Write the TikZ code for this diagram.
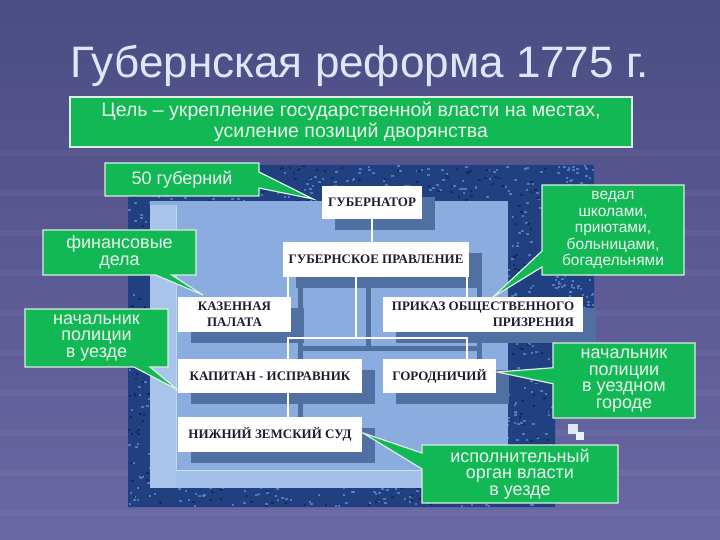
\documentclass[tikz,border=0pt]{standalone}
\usepackage{fontspec}
\setmainfont{Liberation Sans}
\newfontfamily\serifb{Liberation Serif}
\usetikzlibrary{shapes.callouts,shadows}
\definecolor{bgtop}{RGB}{76,76,132}
\definecolor{bgbot}{RGB}{106,104,164}
\definecolor{gr}{RGB}{18,184,84}
\definecolor{grtext}{RGB}{236,244,238}
\definecolor{grborder}{RGB}{222,236,228}
\definecolor{titlec}{RGB}{222,230,248}
\definecolor{darkpan}{RGB}{32,64,128}
\definecolor{speck}{RGB}{95,140,210}
\definecolor{speckd}{RGB}{16,34,78}
\definecolor{lightpan}{RGB}{138,172,222}
\definecolor{strip}{RGB}{168,196,234}
\definecolor{shad}{RGB}{80,112,162}
\definecolor{boxtext}{RGB}{28,28,50}
\tikzset{
  callout/.style={rectangle callout, draw=grborder, line width=1.2pt, fill=gr,
    text=grtext, align=center, font=\fontsize{18}{16.7}\selectfont,
    inner sep=2pt, callout pointer width=16pt},
  wbox/.style={fill=white, text=boxtext, inner sep=2pt,
    font=\serifb\bfseries\fontsize{13}{15.5}\selectfont,
    drop shadow={shadow xshift=13pt, shadow yshift=-11pt, fill=shad, opacity=1}},
  conn/.style={draw=white, line width=1.5pt},
  shadline/.style={draw=shad, line width=5pt}
}
\begin{document}
\begin{tikzpicture}[x=1pt,y=-1pt]
\useasboundingbox (0,0) rectangle (720,540);
\shade[top color=bgtop,bottom color=bgbot] (0,0) rectangle (720,540);
% faint background stripes
\foreach \yy in {150,190,230,270,310,350,390,430,470,510}{
  \fill[white,opacity=0.04] (0,\yy) rectangle (720,\yy+6);
}
% panel
\fill[darkpan] (128,165) -- (594,165) -- (594,418) -- (555,418) -- (555,507) -- (128,507) -- cycle;
\pgfmathsetseed{7}
\foreach \i in {1,...,1400}{
  \pgfmathsetmacro\rx{128+424*rnd}
  \pgfmathsetmacro\ry{165+340*rnd}
  \fill[speck,opacity=0.75] (\rx,\ry) rectangle ++(2.5,2);
}
\foreach \i in {1,...,700}{
  \pgfmathsetmacro\rx{128+424*rnd}
  \pgfmathsetmacro\ry{165+340*rnd}
  \fill[speckd,opacity=0.7] (\rx,\ry) rectangle ++(2.5,2);
}
\foreach \i in {1,...,300}{
  \pgfmathsetmacro\rx{552+40*rnd}
  \pgfmathsetmacro\ry{165+250*rnd}
  \fill[speck,opacity=0.75] (\rx,\ry) rectangle ++(2.5,2);
}
\fill[lightpan] (150,201) rectangle (508,488);
\fill[strip] (150,205) rectangle (176,488);
\fill[strip!80!lightpan] (176,470) rectangle (508,488);
\draw[white,opacity=0.5,line width=1pt] (176,205) -- (176,470) -- (508,470);
\fill[white!70!lightpan] (568,424) rectangle (578,434);
\fill[white!85!lightpan] (576,432) rectangle (584,440);
% connector shadows
\draw[shadline] (300,287) -- (300,445);
\draw[shadline] (479,287) -- (479,369);
\draw[shadline] (368,287) -- (368,348);
\draw[shadline] (300,348) -- (479,348);
% title and goal
\node[font=\fontsize{44}{50}\selectfont, text=titlec] (title) at (360,66) {Губернская реформа 1775 г.};
\node[draw=grborder, line width=1.5pt, fill=gr, minimum width=562pt, minimum height=50pt,
  align=center, text=grtext, font=\fontsize{19.5}{21}\selectfont] (goal) at (351,122)
  {Цель – укрепление государственной власти на местах,\\усиление позиций дворянства};
% white boxes
\node[wbox, minimum width=100pt, minimum height=33pt] (gub) at (372,202.5) {ГУБЕРНАТОР};
\node[wbox, minimum width=186pt, minimum height=35pt] (gp) at (376,259.5) {ГУБЕРНСКОЕ ПРАВЛЕНИЕ};
\node[wbox, minimum width=113pt, minimum height=35pt, align=center] (kaz) at (234.5,314.5) {КАЗЕННАЯ\\ПАЛАТА};
\node[wbox, minimum width=200pt, minimum height=35pt, align=right] (prk) at (483,314.5) {ПРИКАЗ ОБЩЕСТВЕННОГО\\ПРИЗРЕНИЯ};
\node[wbox, minimum width=184pt, minimum height=34pt] (kap) at (270,376) {КАПИТАН - ИСПРАВНИК};
\node[wbox, minimum width=113pt, minimum height=34pt] (gor) at (439.5,376) {ГОРОДНИЧИЙ};
\node[wbox, minimum width=184pt, minimum height=35pt] (niz) at (270,434.5) {НИЖНИЙ ЗЕМСКИЙ СУД};
% connectors
\coordinate (jl) at (288,338);
\coordinate (jc) at (356,338);
\coordinate (jr) at (467,338);
\draw[conn] (gub.south) -- (gub.south |- gp.north);
\draw[conn] (gp.south -| jl) -- (kaz.north -| jl);
\draw[conn] (gp.south -| jr) -- (prk.north -| jr);
\draw[conn] (gp.south -| jc) -- (jc);
\draw[conn] (kap.north -| jl) -- (jl) -- (jr) -- (gor.north -| jr);
\draw[conn] (kap.south -| jl) -- (niz.north -| jl);
% callouts
\coordinate (t50) at (313,199);
\coordinate (tfin) at (203,295);
\coordinate (tpol) at (178,390);
\coordinate (tved) at (493,297);
\coordinate (tgor) at (497,372);
\coordinate (tisp) at (363,433);
\node[callout, minimum width=154pt, minimum height=33pt, callout absolute pointer={(t50)}] (c50) at (182,179.5) {50 губерний};
\node[callout, minimum width=153pt, minimum height=45pt, callout absolute pointer={(tfin)}] (cfin) at (119.5,252.5) {финансовые\\дела};
\node[callout, minimum width=143pt, minimum height=58pt, callout absolute pointer={(tpol)}] (cpol) at (96.5,338) {начальник\\полиции\\в уезде};
\node[callout, minimum width=142pt, minimum height=90pt, font=\fontsize{15.5}{16.5}\selectfont, callout absolute pointer={(tved)}] (cved) at (613,230) {ведал\\школами,\\приютами,\\больницами,\\богадельнями};
\node[callout, minimum width=142pt, minimum height=75pt, callout absolute pointer={(tgor)}] (cgor) at (624,380.5) {начальник\\полиции\\в уездном\\городе};
\node[callout, minimum width=196pt, minimum height=58pt, callout absolute pointer={(tisp)}] (cisp) at (520,474) {исполнительный\\орган власти\\в уезде};
\end{tikzpicture}
\end{document}
